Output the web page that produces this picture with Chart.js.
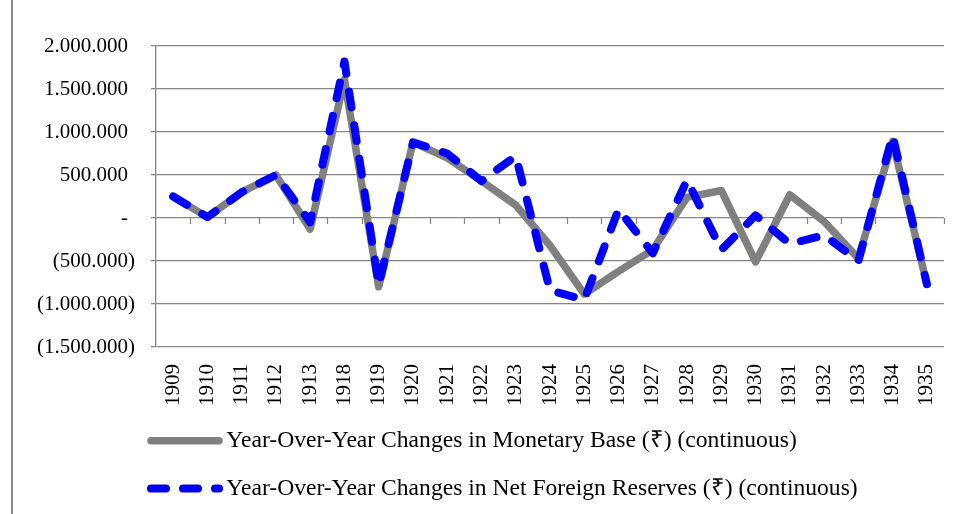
<!DOCTYPE html>
<html>
<head>
<meta charset="utf-8">
<script src="https://cdn.jsdelivr.net/npm/chart.js@4.4.1/dist/chart.umd.min.js"></script>
<style>
  html, body { margin: 0; padding: 0; background: #ffffff; }
  #c { display: block; }
</style>
</head>
<body>
<canvas id="c" width="959" height="514"></canvas>
<script>
const categories = ['1909','1910','1911','1912','1913','1918','1919','1920','1921','1922','1923','1924','1925','1926','1927','1928','1929','1930','1931','1932','1933','1934','1935'];
const monetaryBase = [250000, 10000, 300000, 500000, -130000, 1610000, -800000, 880000, 700000, 430000, 150000, -320000, -885000, -620000, -370000, 240000, 320000, -510000, 270000, -40000, -470000, 890000, -770000];
const netForeignReserves = [250000, 10000, 300000, 500000, -50000, 1820000, -780000, 880000, 750000, 430000, 720000, -840000, -950000, 100000, -410000, 440000, -370000, 30000, -300000, -200000, -500000, 960000, -770000];
const yTickValues = [2000000, 1500000, 1000000, 500000, 0, -500000, -1000000, -1500000];
const seriesLabels = ['Year-Over-Year Changes in Monetary Base (\u20B9) (continuous)', 'Year-Over-Year Changes in Net Foreign Reserves (\u20B9) (continuous)'];

const FONT = 'Liberation Serif';
const GRID = '#868686';
const LEGEND_FONT = 23.6;
const LEGEND_PAD = 24;

function fmt(v) {
  const abs = Math.abs(v);
  const s = abs.toString().replace(/\B(?=(\d{3})+(?!\d))/g, '.');
  if (v === 0) return '-\u2006\u2006';
  if (v < 0) return '(' + s + ')';
  return s + '\u2006\u2006';
}

const decor = {
  id: 'decor',
  beforeLayout(chart) {
    const lg = chart.legend;
    if (lg && !lg._patched) {
      const f = lg.fit;
      lg.fit = function () { f.call(this); this.height = 109; };
      lg._patched = true;
    }
    ['x', 'y'].forEach(id => {
      const s = chart.scales[id];
      if (s) s._computeLabelArea = () => undefined;
    });
  },
  afterLayout(chart) {
    ['x', 'y'].forEach(id => {
      const s = chart.scales[id];
      if (s) s._computeLabelArea = () => undefined;
    });
  },
  beforeDraw(chart) {
    const ctx = chart.ctx;
    ctx.save();
    ctx.fillStyle = '#ffffff';
    ctx.fillRect(0, 0, chart.width, chart.height);
    ctx.fillStyle = '#898989';
    ctx.fillRect(11, 0, 2, chart.height);
    ctx.restore();
  },
  beforeDatasetsDraw(chart) {
    const ctx = chart.ctx;
    const xs = chart.scales.x, ys = chart.scales.y;
    const y0 = ys.getPixelForValue(0);
    ctx.save();
    ctx.strokeStyle = GRID;
    ctx.lineWidth = 1.3;
    ctx.beginPath();
    for (let k = 1; k <= categories.length; k++) {
      const px = Math.round(xs.getPixelForValue(k - 0.5)) + 0.5;
      ctx.moveTo(px, y0);
      ctx.lineTo(px, y0 + 6);
    }
    ctx.stroke();
    ctx.restore();
  },
  afterDraw(chart) {
    const lg = chart.legend;
    if (!lg) return;
    const ctx = chart.ctx;
    const x0 = lg.left + LEGEND_PAD;
    const lineH = LEGEND_FONT + LEGEND_PAD;
    const styles = [
      { color: '#808080', width: 7.5, dash: [] },
      { color: '#0000ff', width: 8, dash: [15, 17] }
    ];
    styles.forEach((st, i) => {
      const y = lg.top + LEGEND_PAD + LEGEND_FONT / 2 + i * lineH;
      ctx.save();
      ctx.strokeStyle = st.color;
      ctx.lineWidth = st.width;
      ctx.lineCap = 'round';
      ctx.setLineDash(st.dash);
      ctx.beginPath();
      ctx.moveTo(x0, y);
      ctx.lineTo(x0 + 68, y);
      ctx.stroke();
      ctx.restore();
    });
  }
};

new Chart(document.getElementById('c'), {
  type: 'line',
  data: {
    labels: categories,
    datasets: [
      {
        label: seriesLabels[0],
        data: monetaryBase,
        borderColor: '#808080',
        backgroundColor: '#808080',
        borderWidth: 7.5,
        borderCapStyle: 'round',
        borderJoinStyle: 'round',
        pointRadius: 0,
        tension: 0,
        order: 1
      },
      {
        label: seriesLabels[1],
        data: netForeignReserves,
        borderColor: '#0000ff',
        backgroundColor: '#0000ff',
        borderWidth: 8,
        borderDash: [16, 18],
        borderCapStyle: 'round',
        borderJoinStyle: 'round',
        pointRadius: 0,
        tension: 0,
        order: 0
      }
    ]
  },
  options: {
    responsive: false,
    animation: false,
    layout: { padding: { left: 127, right: 15, top: 46, bottom: 0 } },
    plugins: {
      legend: {
        position: 'bottom',
        align: 'start',
        labels: {
          boxWidth: 63.5,
          padding: LEGEND_PAD,
          color: '#000000',
          font: { family: FONT, size: LEGEND_FONT },
          sort: (a, b) => a.datasetIndex - b.datasetIndex,
          generateLabels(chart) {
            const items = Chart.defaults.plugins.legend.labels.generateLabels(chart);
            return items.map(it => Object.assign(it, {
              fillStyle: 'rgba(0,0,0,0)',
              strokeStyle: 'rgba(0,0,0,0)',
              lineWidth: 0
            }));
          }
        }
      },
      tooltip: { enabled: false }
    },
    scales: {
      x: {
        offset: true,
        grid: { display: false, drawTicks: false, offset: true },
        border: { display: false },
        ticks: {
          autoSkip: false,
          minRotation: 90,
          maxRotation: 90,
          padding: 17,
          color: '#000000',
          font: { family: FONT, size: 21 }
        },
        afterFit(s) { s.height = 58; s.paddingLeft = 0; s.paddingRight = 0; }
      },
      y: {
        min: -1500000,
        max: 2000000,
        afterBuildTicks(s) { s.ticks = yTickValues.map(v => ({ value: v })); },
        ticks: {
          padding: 16,
          color: '#000000',
          font: { family: FONT, size: 21 },
          callback: (v) => fmt(v)
        },
        grid: { color: GRID, lineWidth: 1.3, tickLength: 5 },
        border: { color: GRID, width: 1.3 },
        afterFit(s) { s.width = 29; s.paddingTop = 0; s.paddingBottom = 0; }
      }
    }
  },
  plugins: [decor]
});
</script>
</body>
</html>
